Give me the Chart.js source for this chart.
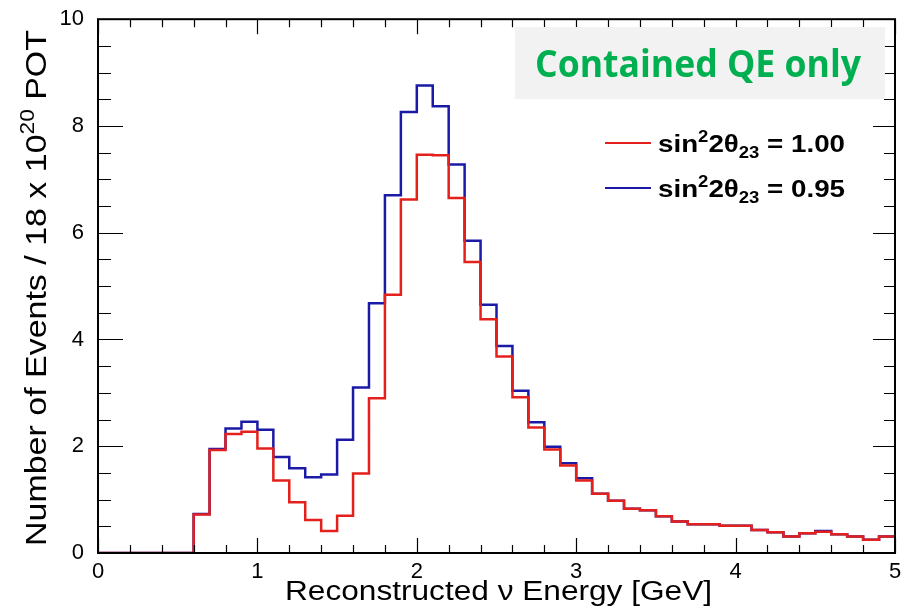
<!DOCTYPE html>
<html>
<head>
<meta charset="utf-8">
<script src="https://cdn.jsdelivr.net/npm/chart.js@4"></script>
<style>
  html, body { margin: 0; padding: 0; background: #fff; }
  #wrap { width: 903px; height: 613px; position: relative; }
</style>
</head>
<body>
<div id="wrap"><canvas id="spectrum"></canvas></div>
<script>
// ── Data ─────────────────────────────────────────────────────────────────
const BIN_WIDTH = 0.1;
// events per 0.1 GeV bin, 0 .. 5 GeV
const eventsMaxMixing = [
  0, 0, 0, 0, 0, 0, 0.72, 1.93, 2.23, 2.27,
  1.96, 1.36, 0.95, 0.62, 0.41, 0.70, 1.49, 2.90, 4.84, 6.62,
  7.46, 7.45, 6.65, 5.45, 4.38, 3.68, 2.92, 2.35, 1.94, 1.64,
  1.36, 1.11, 0.98, 0.83, 0.80, 0.69, 0.59, 0.54, 0.54, 0.51,
  0.51, 0.43, 0.39, 0.31, 0.37, 0.40, 0.35, 0.31, 0.25, 0.31,
];
const eventsNonMax = [
  0, 0, 0, 0, 0, 0, 0.73, 1.95, 2.33, 2.46,
  2.31, 1.80, 1.59, 1.42, 1.47, 2.12, 3.10, 4.68, 6.70, 8.26,
  8.76, 8.37, 7.28, 5.85, 4.65, 3.88, 3.04, 2.45, 1.99, 1.68,
  1.40, 1.11, 0.98, 0.83, 0.80, 0.69, 0.59, 0.54, 0.54, 0.51,
  0.51, 0.43, 0.39, 0.31, 0.37, 0.41, 0.35, 0.31, 0.25, 0.31,
];
const seriesLabels = ["1.00", "0.95"];
const xRange = [0, 5];
const yRange = [0, 10];

const RED = "#e3201c";
const BLUE = "#1a1aa6";
const FONT = "'Liberation Sans', Arial, Helvetica, sans-serif";

// histogram -> step points at the low edge of each bin, closing at the top edge
const toSteps = (values) => {
  const pts = values.map((v, i) => ({ x: +(i * BIN_WIDTH).toFixed(2), y: v }));
  pts.push({ x: +(values.length * BIN_WIDTH).toFixed(2), y: values[values.length - 1] });
  return pts;
};

// draw a list of [text, scale, dy] runs starting at x (left aligned)
const drawRuns = (ctx, runs, x, y, size, weight) => {
  let cx = x;
  runs.forEach(([text, scale, dy]) => {
    ctx.font = `${weight} ${Math.round(size * scale)}px ${FONT}`;
    ctx.fillText(text, cx, y + dy);
    cx += ctx.measureText(text).width;
  });
  return cx - x;
};
const measureRuns = (ctx, runs, size, weight) => {
  let w = 0;
  runs.forEach(([text, scale]) => {
    ctx.font = `${weight} ${Math.round(size * scale)}px ${FONT}`;
    w += ctx.measureText(text).width;
  });
  return w;
};
// runs stretched along their direction to a given length
const drawRunsFit = (ctx, runs, x, y, size, weight, length) => {
  const w = measureRuns(ctx, runs, size, weight);
  ctx.save();
  ctx.translate(x, y);
  ctx.scale(length / w, 1);
  drawRuns(ctx, runs, 0, 0, size, weight);
  ctx.restore();
};

// ── Frame, ROOT-style ticks, titles, legend, label box ──────────────────
const decorPlugin = {
  id: "decorPlugin",
  afterDraw(chart) {
    const { ctx, chartArea: a, scales } = chart;
    const xs = scales.x;
    const ys = scales.y;
    ctx.save();
    ctx.strokeStyle = "#000";
    ctx.textBaseline = "alphabetic";

    // ticks on all four sides
    ctx.lineWidth = 1.2;
    ctx.beginPath();
    for (let k = 0; k <= 25; k++) {
      const v = k * 0.2;
      const px = Math.round(xs.getPixelForValue(v)) + 0.5;
      const len = k % 5 === 0 ? 15 : 8;
      ctx.moveTo(px, a.bottom); ctx.lineTo(px, a.bottom - len);
      ctx.moveTo(px, a.top); ctx.lineTo(px, a.top + len);
    }
    for (let k = 0; k <= 20; k++) {
      const v = k * 0.5;
      const py = Math.round(ys.getPixelForValue(v)) + 0.5;
      const lenL = k % 4 === 0 ? 25 : 13;
      const lenR = k % 4 === 0 ? 22 : 11;
      ctx.moveTo(a.left, py); ctx.lineTo(a.left + lenL, py);
      ctx.moveTo(a.right, py); ctx.lineTo(a.right - lenR, py);
    }
    ctx.stroke();

    // frame
    ctx.lineWidth = 2;
    ctx.strokeRect(a.left, a.top, a.right - a.left, a.bottom - a.top);

    // grey label box
    ctx.fillStyle = "#f2f2f2";
    ctx.fillRect(515, 27, 370, 72);
    ctx.fillStyle = "#00b050";
    ctx.font = `bold 38px 'Open Sans', ${FONT}`;
    const boxText = "Contained QE only";
    const tw = ctx.measureText(boxText).width;
    ctx.save();
    ctx.translate(535, 77);
    ctx.scale(326 / tw, 1);
    ctx.fillText(boxText, 0, 0);
    ctx.restore();

    // legend
    const legendRows = [
      { color: RED, y: 143, value: seriesLabels[0] },
      { color: BLUE, y: 188, value: seriesLabels[1] },
    ];
    legendRows.forEach((row) => {
      ctx.strokeStyle = row.color;
      ctx.lineWidth = 2;
      ctx.beginPath();
      ctx.moveTo(605, row.y);
      ctx.lineTo(651, row.y);
      ctx.stroke();
      ctx.fillStyle = "#000";
      drawRunsFit(ctx, [
        ["sin", 1, 0],
        ["2", 0.66, -10],
        ["2\u03b8", 1, 0],
        ["23", 0.66, 6],
        [" = " + row.value, 1, 0],
      ], 658, row.y + 9, 24, "bold", 187);
    });

    // x title
    ctx.fillStyle = "#000";
    drawRunsFit(ctx, [["Reconstructed \u03bd Energy [GeV]", 1, 0]], 285, 600, 27, "normal", 427);

    // y title (rotated, with superscript)
    const yRuns = [
      ["Number of Events / 18 x 10", 1, 0],
      ["20", 0.66, -12],
      [" POT", 1, 0],
    ];
    ctx.save();
    ctx.translate(46, 546);
    ctx.rotate(-Math.PI / 2);
    drawRunsFit(ctx, yRuns, 0, 0, 30, "normal", 516);
    ctx.restore();

    ctx.restore();
  },
};

// ── Chart ────────────────────────────────────────────────────────────────
const chart = new Chart(document.getElementById("spectrum"), {
  type: "line",
  data: {
    datasets: [
      {
        label: "sin22θ23 = " + seriesLabels[0],
        data: toSteps(eventsMaxMixing),
        borderColor: RED,
        borderWidth: 2.5,
        stepped: "before",
        pointRadius: 0,
        fill: false,
        order: 1,
      },
      {
        label: "sin22θ23 = " + seriesLabels[1],
        data: toSteps(eventsNonMax),
        borderColor: BLUE,
        borderWidth: 2.5,
        stepped: "before",
        pointRadius: 0,
        fill: false,
        order: 2,
      },
    ],
  },
  options: {
    responsive: true,
    maintainAspectRatio: false,
    animation: false,
    layout: { padding: { top: 18, right: 8, left: 0, bottom: 0 } },
    plugins: {
      legend: { display: false },
      tooltip: { enabled: false },
    },
    scales: {
      x: {
        type: "linear",
        min: xRange[0],
        max: xRange[1],
        grid: { display: false },
        border: { display: false },
        ticks: {
          stepSize: 1,
          maxRotation: 0,
          padding: -2,
          color: "#000",
          font: { family: FONT, size: 22 },
        },
        afterFit(scale) { scale.height = 60; },
      },
      y: {
        min: yRange[0],
        max: yRange[1],
        grid: { display: false },
        border: { display: false },
        ticks: {
          stepSize: 2,
          padding: 6,
          color: "#000",
          font: { family: FONT, size: 22 },
        },
        afterFit(scale) { scale.width = 98; },
      },
    },
  },
  plugins: [decorPlugin],
});
</script>
</body>
</html>
